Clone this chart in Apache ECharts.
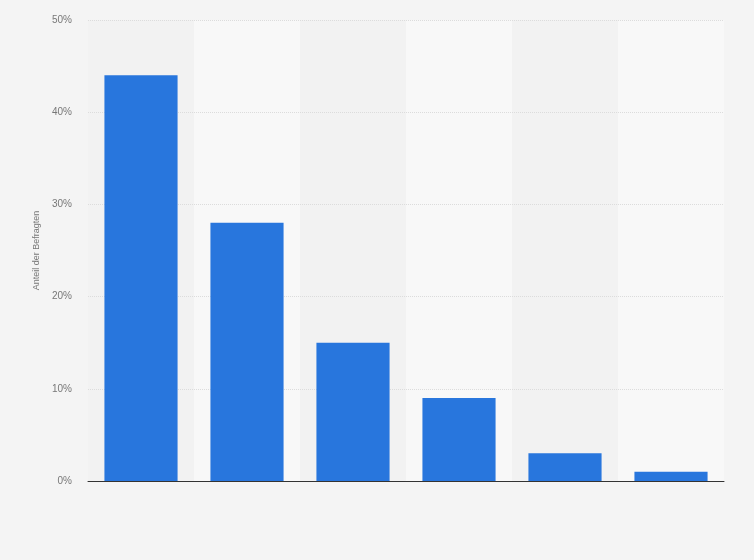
<!DOCTYPE html>
<html><head><meta charset="utf-8">
<script src="https://cdn.jsdelivr.net/npm/echarts@6/dist/echarts.min.js"></script>
<style>html,body{margin:0;padding:0;background:#f4f4f4}#c{width:754px;height:560px}</style>
</head><body><div id="c"></div>
<script>
const categories = ['1', '2', '3', '4', '5', '6'];
const values = [44, 28, 15, 9, 3, 1];
const yTicks = { min: 0, max: 50, interval: 10 };
const yAxisTitle = 'Anteil der Befragten';

const chart = echarts.init(document.getElementById('c'), null, { renderer: 'canvas' });
chart.setOption({
  backgroundColor: '#f4f4f4',
  animation: false,
  grid: { left: 88, right: 30, top: 20, bottom: 79 },
  xAxis: {
    type: 'category',
    data: categories,
    z: 0,
    axisLine: { show: true, lineStyle: { color: '#333', width: 1 } },
    axisTick: { show: false },
    axisLabel: { show: false },
    splitArea: { show: true, areaStyle: { color: ['#f2f2f2', '#f8f8f8'] } }
  },
  yAxis: {
    type: 'value',
    z: 1,
    min: yTicks.min, max: yTicks.max, interval: yTicks.interval,
    name: yAxisTitle,
    nameLocation: 'middle',
    nameGap: 38,
    nameTextStyle: { color: '#777', fontSize: 9, fontFamily: 'Liberation Sans, Arial, sans-serif' },
    axisLine: { show: false },
    axisTick: { show: false },
    axisLabel: { formatter: '{value}%', color: '#777', fontSize: 10, margin: 16, fontFamily: 'Liberation Sans, Arial, sans-serif' },
    splitLine: { showMinLine: false, lineStyle: { color: '#dcdcdc', type: [1, 1], width: 1 } }
  },
  series: [{
    type: 'bar',
    z: 2,
    data: values,
    barCategoryGap: '31%',
    itemStyle: { color: '#2876dd' }
  }]
});
</script></body></html>
